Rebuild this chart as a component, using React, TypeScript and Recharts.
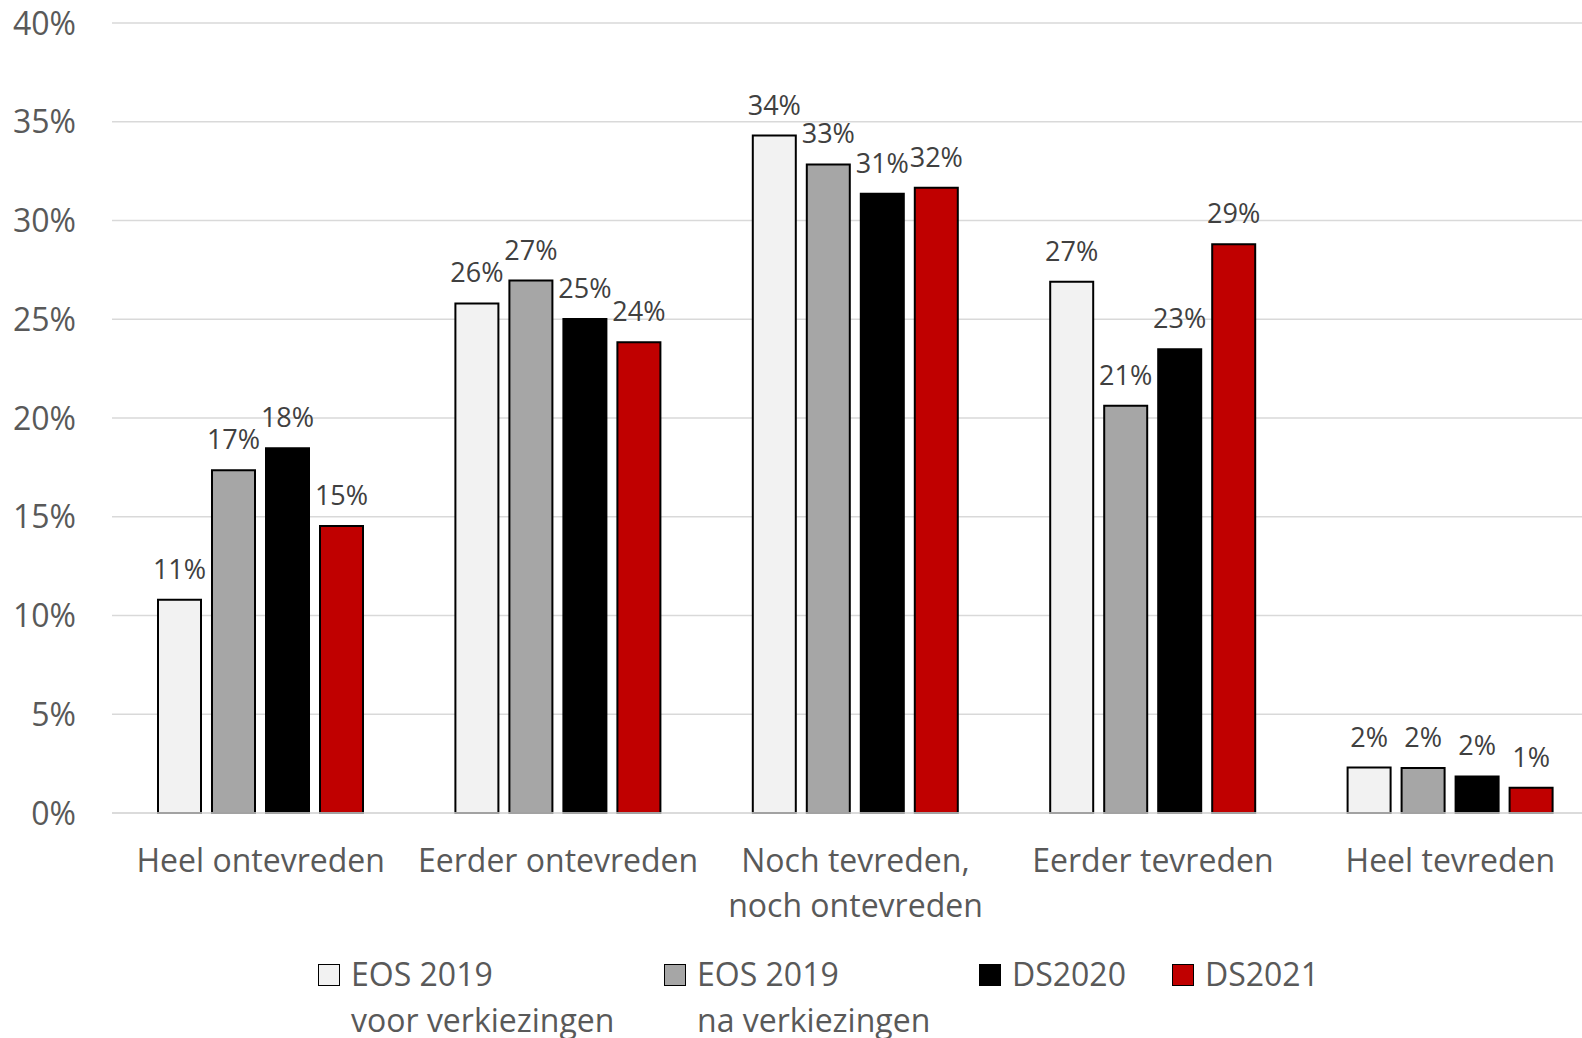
import React from "react";
import { BarChart, Bar, XAxis, YAxis, CartesianGrid, LabelList } from "recharts";

const categories = ["Heel ontevreden", "Eerder ontevreden", "Noch tevreden,\nnoch ontevreden", "Eerder tevreden", "Heel tevreden"];
const eosVoor = [10.8, 25.8, 34.3, 26.9, 2.3];
const eosNa = [17.35, 26.96, 32.84, 20.62, 2.28];
const ds2020 = [18.47, 25.01, 31.35, 23.48, 1.85];
const ds2021 = [14.53, 23.84, 31.66, 28.8, 1.28];
const yTicks = [0, 5, 10, 15, 20, 25, 30, 35, 40];

const seriesNames = [["EOS 2019", "voor verkiezingen"], ["EOS 2019", "na verkiezingen"], ["DS2020"], ["DS2021"]];
const seriesKeys = ["eosVoor", "eosNa", "ds2020", "ds2021"];
const seriesColors = ["#F2F2F2", "#A6A6A6", "#000000", "#C00000"];

const data = categories.map((c, i) => ({
  name: c,
  eosVoor: eosVoor[i],
  eosNa: eosNa[i],
  ds2020: ds2020[i],
  ds2021: ds2021[i],
}));

const FONT = '"Open Sans", sans-serif';
const AXIS_COLOR = "#595959";

const YTick = (props: any) => {
  const { x, y, payload } = props;
  return (
    <text x={x - 36} y={y} dy="0.36em" textAnchor="end" fill={AXIS_COLOR} fontSize={32} fontFamily={FONT}>
      {payload.value}%
    </text>
  );
};

const XTick = (props: any) => {
  const { x, y, payload } = props;
  const lines = String(payload.value).split("\n");
  return (
    <text x={x} y={y + 59} textAnchor="middle" fill={AXIS_COLOR} fontSize={32} fontFamily={FONT}>
      {lines.map((l, i) => (
        <tspan key={i} x={x} dy={i === 0 ? 0 : 45}>
          {l}
        </tspan>
      ))}
    </text>
  );
};

const DataLabel = (props: any) => {
  const { x, y, width, value } = props;
  return (
    <text x={x + width / 2} y={y - 21} textAnchor="middle" fill="#404040" fontSize={27} fontFamily={FONT}>
      {Math.round(value)}%
    </text>
  );
};

const legendLefts = [318, 664, 979, 1172];

export default function App() {
  return (
    <div style={{ position: "absolute", left: 0, top: 0, width: 1582, height: 1038, overflow: "hidden", background: "#fff" }}>
      <BarChart
        width={1599}
        height={1038}
        data={data}
        margin={{ top: 23, right: 0, bottom: 0, left: 0 }}
        barCategoryGap={46}
        barGap={11}
      >
        <CartesianGrid vertical={false} stroke="#D9D9D9" strokeWidth={1.5} />
        <XAxis
          dataKey="name"
          height={225}
          tickLine={false}
          tickSize={0}
          tickMargin={0}
          axisLine={{ stroke: "#D9D9D9", strokeWidth: 1.5 }}
          tick={<XTick />}
          interval={0}
        />
        <YAxis
          width={112}
          domain={[0, 40]}
          ticks={yTicks}
          axisLine={false}
          tickLine={false}
          tickSize={0}
          tickMargin={0}
          tick={<YTick />}
          interval={0}
        />
        {seriesKeys.map((k, i) => (
          <Bar key={k} dataKey={k} fill={seriesColors[i]} stroke="#000" strokeWidth={2} isAnimationActive={false}>
            <LabelList dataKey={k} content={<DataLabel />} />
          </Bar>
        ))}
      </BarChart>
      {seriesNames.map((lines, i) => (
        <div key={i}>
          <div
            style={{
              position: "absolute",
              left: legendLefts[i],
              top: 964,
              width: 20,
              height: 20,
              background: seriesColors[i],
              border: "1.5px solid #000",
            }}
          />
          <div
            style={{
              position: "absolute",
              left: legendLefts[i] + 33,
              top: 951,
              fontFamily: FONT,
              fontSize: 32,
              lineHeight: "46px",
              color: AXIS_COLOR,
              whiteSpace: "nowrap",
            }}
          >
            {lines.map((l, j) => (
              <div key={j}>{l}</div>
            ))}
          </div>
        </div>
      ))}
    </div>
  );
}
